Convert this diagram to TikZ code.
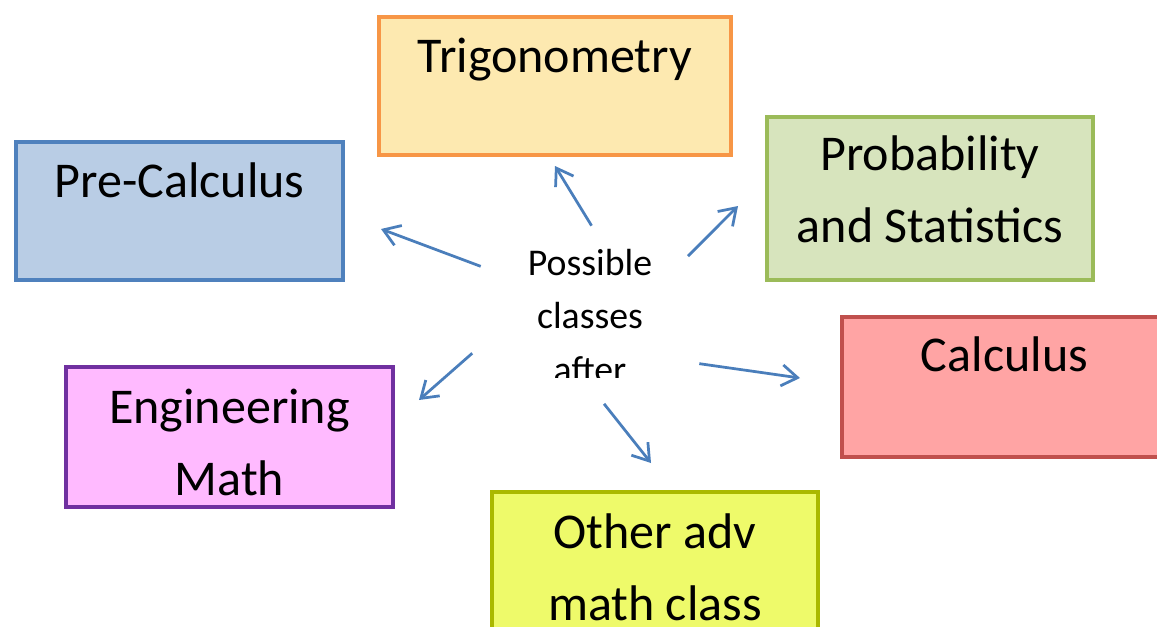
\documentclass[tikz,border=0pt]{standalone}
\usepackage{fontspec}
\setmainfont{Carlito}
\usetikzlibrary{arrows.meta,shapes.geometric}

\definecolor{trigline}{HTML}{F79646}
\definecolor{trigfill}{HTML}{FDE9B0}
\definecolor{pcline}{HTML}{4F81BD}
\definecolor{pcfill}{HTML}{B9CDE5}
\definecolor{probline}{HTML}{9BBB59}
\definecolor{probfill}{HTML}{D7E4BD}
\definecolor{calcline}{HTML}{C0504D}
\definecolor{calcfill}{HTML}{FFA4A4}
\definecolor{engline}{HTML}{7030A0}
\definecolor{engfill}{HTML}{FFBAFF}
\definecolor{othline}{HTML}{AAB800}
\definecolor{othfill}{HTML}{EEFA6A}
\definecolor{arrblue}{HTML}{4A7EBB}

\tikzset{
  box/.style={draw, line width=0.08cm, anchor=north west, inner sep=0pt,
    minimum width=6.54cm, minimum height=2.8cm},
  boxtext/.style={anchor=base, inner sep=0pt, align=center,
    font=\fontsize{28.5}{41.5}\selectfont},
  arr/.style={draw=arrblue, line width=0.055cm,
    {Straight Barb[length=9pt,width=12pt]}-}
}

\begin{document}
\begin{tikzpicture}[x=0.02cm, y=-0.02cm]
  \useasboundingbox (0,0) rectangle (1157,626);
  \clip (0,0) rectangle (1157,626);

  \node[box, draw=trigline, fill=trigfill, minimum width=7.04cm, minimum height=2.76cm] (trig) at (377,15) {};
  \node[boxtext] (trigtxt) at ([yshift=-1.16cm]trig.north) {Trigonometry};

  \node[box, draw=pcline, fill=pcfill, minimum height=2.76cm] (precalc) at (14,140) {};
  \node[boxtext] (precalctxt) at ([yshift=-1.16cm]precalc.north) {Pre-Calculus};

  % base of a two-line node sits on its last line
  \node[box, draw=probline, fill=probfill, minimum width=6.52cm, minimum height=3.26cm] (prob) at (765,115) {};
  \node[boxtext] (probtxt) at ([yshift=-2.56cm]prob.north) {Probability\\and Statistics};

  \node[box, draw=calcline, fill=calcfill, minimum width=6.5cm] (calc) at (840,315) {};
  \node[boxtext] (calctxt) at ([yshift=-1.14cm]calc.north) {Calculus};

  \node[box, draw=engline, fill=engfill] (eng) at (64,365) {};
  \node[boxtext] (engtxt) at ([yshift=-2.62cm]eng.north) {Engineering\\Math};

  \node[box, draw=othline, fill=othfill, minimum width=6.52cm] (oth) at (490,490) {};
  \node[boxtext] (othtxt) at ([yshift=-2.62cm]oth.north) {Other adv\\math class};

  \begin{scope}
    \clip (470,230) rectangle (710,377);
    \node[boxtext, font=\fontsize{21.5}{30.2}\selectfont] (ctr) at (590,382) {Possible\\classes\\after};
  \end{scope}

  \node[ellipse, minimum width=5.2cm, minimum height=3.56cm, inner sep=0pt] (hub) at (590,315) {};

  \coordinate (ptrig) at (555,166) edge[arr] (hub.89);
  \coordinate (pprob) at (738,206) edge[arr] (hub.31);
  \coordinate (pcalc) at (800,378) edge[arr] (hub.-24.5);
  \coordinate (poth) at (651,463) edge[arr] (hub.-81.5);
  \coordinate (peng) at (419,400) edge[arr] (hub.-162);
  \coordinate (pprecalc) at (381,229) edge[arr] (hub.156);
\end{tikzpicture}
\end{document}
